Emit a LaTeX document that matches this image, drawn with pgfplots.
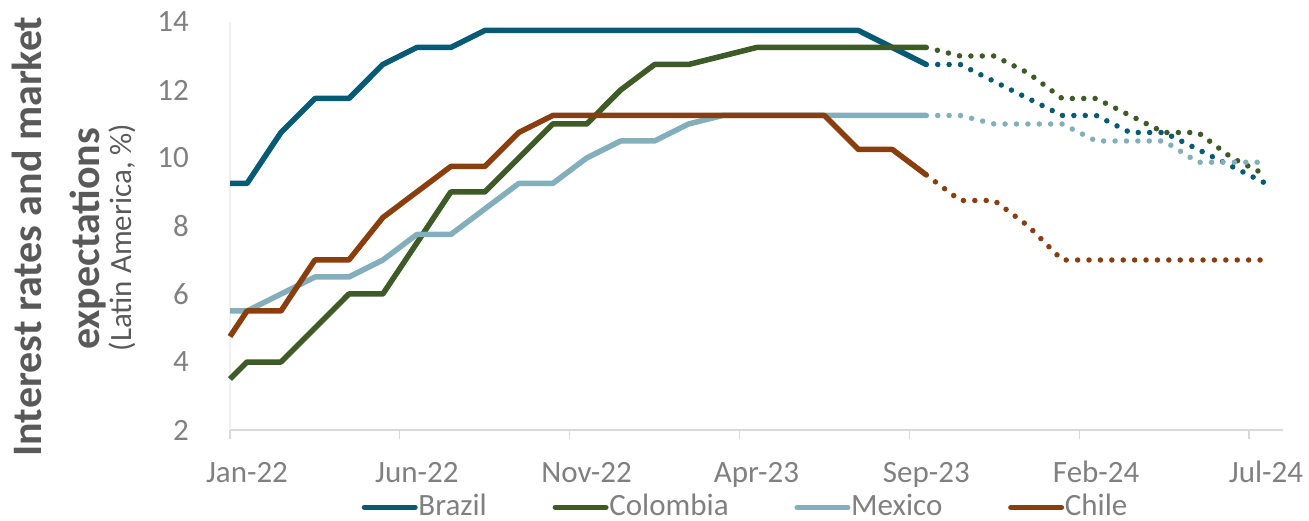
\documentclass[border=0pt]{standalone}
\usepackage{fontspec}
\setmainfont{Carlito}
\usepackage{pgfplots}
\pgfplotsset{compat=1.18}

\definecolor{brazil}{HTML}{065A73}
\definecolor{colombia}{HTML}{3D5A27}
\definecolor{mexico}{HTML}{82AFBB}
\definecolor{chile}{HTML}{8A3E0E}
\definecolor{tickgray}{HTML}{808080}
\definecolor{titlegray}{HTML}{595959}
\definecolor{axisgray}{HTML}{D9D9D9}
\definecolor{yaxisgray}{HTML}{F0F0F0}

% x = months since 1 Jan 2022 (observations at mid-month)
% Policy rates (solid)
\pgfplotstableread{
m r
0 9.25
0.5 9.25
1.5 10.75
2.5 11.75
3.5 11.75
4.5 12.75
5.5 13.25
6.5 13.25
7.5 13.75
18.5 13.75
19.5 13.25
20.5 12.75
}\brazil
\pgfplotstableread{
m r
0 3.5
0.5 4.0
1.5 4.0
2.5 5.0
3.5 6.0
4.5 6.0
5.5 7.5
6.5 9.0
7.5 9.0
8.5 10.0
9.5 11.0
10.5 11.0
11.5 12.0
12.5 12.75
13.5 12.75
14.5 13.0
15.5 13.25
20.5 13.25
}\colombia
\pgfplotstableread{
m r
0 5.5
0.5 5.5
1.5 6.0
2.5 6.5
3.5 6.5
4.5 7.0
5.5 7.75
6.5 7.75
7.5 8.5
8.5 9.25
9.5 9.25
10.5 10.0
11.5 10.5
12.5 10.5
13.5 11.0
14.5 11.25
20.5 11.25
}\mexico
\pgfplotstableread{
m r
0 4.75
0.5 5.5
1.5 5.5
2.5 7.0
3.5 7.0
4.5 8.25
5.5 9.0
6.5 9.75
7.5 9.75
8.5 10.75
9.5 11.25
17.5 11.25
18.5 10.25
19.5 10.25
20.5 9.5
}\chile

% Market expectations (dotted)
\pgfplotstableread{
m r
20.5 12.75
21.5 12.75
22.5 12.25
23.5 11.75
24.5 11.25
25.5 11.25
26.5 10.75
27.5 10.75
28.5 10.25
29.5 9.75
30.5 9.25
}\brazilexp
\pgfplotstableread{
m r
20.5 13.25
21.5 13.0
22.5 13.0
23.5 12.5
24.5 11.75
25.5 11.75
26.5 11.25
27.5 10.75
28.5 10.75
29.5 10.0
30.5 9.5
}\colombiaexp
\pgfplotstableread{
m r
20.5 11.25
21.5 11.25
22.5 11.0
23.5 11.0
24.5 11.0
25.5 10.5
26.5 10.5
27.5 10.5
28.5 9.875
29.5 9.875
30.25 9.875
}\mexicoexp
\pgfplotstableread{
m r
20.5 9.5
21.5 8.75
22.5 8.75
23.5 8.0
24.5 7.0
25.5 7.0
26.5 7.0
27.5 7.0
28.5 7.0
29.5 7.0
30.5 7.0
}\chileexp

\newcommand{\lblfont}{\fontsize{31bp}{37bp}\selectfont}

\begin{document}
\begin{tikzpicture}
\begin{axis}[
  scale only axis,
  width=1053bp, height=408bp,
  at={(0,0)}, anchor=south west,
  xmin=0, xmax=31, ymin=2, ymax=14,
  axis x line*=bottom, axis y line*=left,
  x axis line style={draw=axisgray, line width=1.5bp},
  y axis line style={draw=yaxisgray, line width=1.2bp},
  xtick={0,5,...,30},
  xticklabels={Jan-22,Jun-22,Nov-22,Apr-23,Sep-23,Feb-24,Jul-24},
  ytick={2,4,...,14},
  tick align=outside,
  major tick length=9bp,
  x tick style={draw=axisgray, line width=1.3bp},
  y tick style={draw=none},
  /pgf/number format/assume math mode=true,
  xticklabel style={anchor=base, inner sep=0pt, xshift=17bp, yshift=-43bp,
    font=\lblfont, text=tickgray},
  yticklabel style={anchor=east, inner sep=0pt, xshift=-32bp,
    font=\lblfont, text=tickgray},
  legend columns=4,
  legend style={draw=none, fill=none, inner sep=0pt, outer sep=0pt,
    at={(0.1225,-0.1875)}, anchor=west,
    font=\lblfont, text=tickgray,
    nodes={inner sep=0pt, anchor=base},
    /tikz/every odd column/.append style={column sep=-2bp},
    /tikz/every even column/.append style={column sep=63bp}},
  legend image code/.code={
    \path (0,0) (56bp,0);
    \draw[#1, solid, line width=5.5bp, line cap=round] (2.75bp,8.5bp) -- (53.25bp,8.5bp);},
  every axis plot/.append style={line width=5.5bp, line join=round},
  clip=false,
]
\addplot[brazil] table[x=m, y=r] {\brazil};
\addlegendentry{Brazil}
\addplot[colombia] table[x=m, y=r] {\colombia};
\addlegendentry{Colombia}
\addplot[mexico] table[x=m, y=r] {\mexico};
\addlegendentry{Mexico}
\addplot[chile] table[x=m, y=r] {\chile};
\addlegendentry{Chile}

\addplot[brazil, forget plot, line cap=round, dash pattern=on 0bp off 11.4bp, dash phase=-11.4bp] table[x=m, y=r] {\brazilexp};
\addplot[colombia, forget plot, line cap=round, dash pattern=on 0bp off 11.4bp, dash phase=-11.4bp] table[x=m, y=r] {\colombiaexp};
\addplot[mexico, forget plot, line cap=round, dash pattern=on 0bp off 11.4bp, dash phase=-11.4bp] table[x=m, y=r] {\mexicoexp};
\addplot[chile, forget plot, line cap=round, dash pattern=on 0bp off 11.4bp, dash phase=-11.4bp] table[x=m, y=r] {\chileexp};
\end{axis}

\node[rotate=90, anchor=base, text=titlegray, font=\fontsize{42bp}{50bp}\selectfont\bfseries]
  at (-188bp,193.5bp) {Interest rates and market};
\node[rotate=90, anchor=base, text=titlegray, font=\fontsize{42bp}{50bp}\selectfont\bfseries]
  at (-130bp,191bp) {expectations};
\node[rotate=90, anchor=base, text=titlegray, font=\lblfont]
  at (-98bp,192.5bp) {(Latin America, \%)};

\pgfresetboundingbox
\useasboundingbox (-230bp,-91bp) rectangle (1079bp,430bp);
\end{tikzpicture}
\end{document}
